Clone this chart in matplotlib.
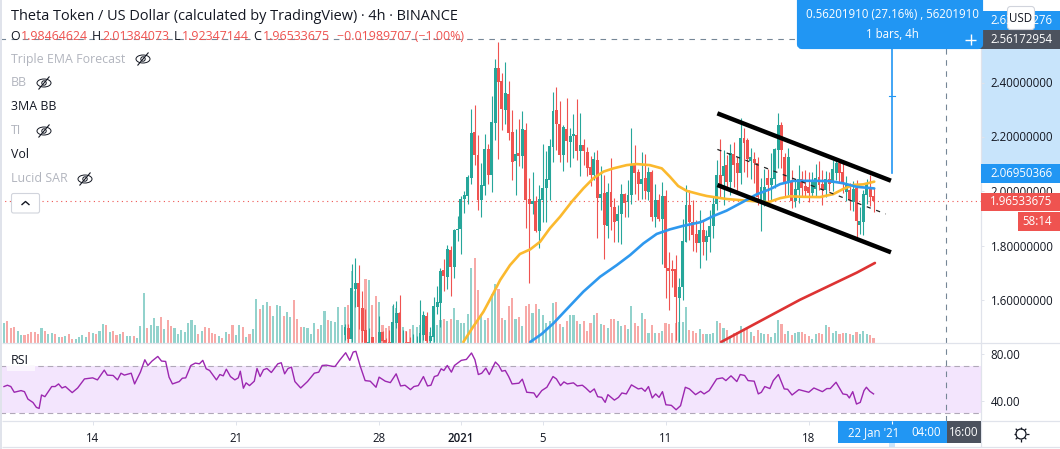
import math
import matplotlib
matplotlib.use("Agg")
import matplotlib.pyplot as plt
from matplotlib.patches import Rectangle, FancyBboxPatch, Ellipse, Circle

plt.rcParams['font.family'] = ['Open Sans', 'DejaVu Sans']

# ---------- data ----------
candle_start = 100  # earlier candles lie below the visible pane
open_ = [
 1.470,1.495,1.455,1.640,1.662,1.571,1.488,1.430,1.463,1.430,
 1.430,1.481,1.452,1.445,1.430,1.514,1.551,1.430,1.445,1.445,
 1.430,1.430,1.430,1.470,1.540,1.448,1.463,1.573,1.588,1.710,
 1.684,1.784,1.721,1.857,1.861,1.972,1.983,2.049,2.219,2.134,
 1.968,2.020,2.156,2.060,2.252,2.455,2.407,2.300,2.359,2.219,
 2.112,2.142,2.131,2.226,1.972,1.953,1.965,1.854,1.968,2.012,
 2.042,2.164,2.300,2.249,2.134,2.230,2.182,2.204,2.208,2.149,
 2.171,2.145,2.090,2.061,2.116,1.976,1.994,1.872,1.998,1.942,
 1.891,1.917,1.990,1.961,1.987,2.097,2.072,2.027,2.050,1.998,
 2.072,1.906,1.968,1.898,1.983,1.717,1.713,1.713,1.607,1.647,
 1.813,1.950,1.887,1.843,1.810,1.858,1.815,1.832,1.872,1.954,
 2.060,2.057,2.097,2.035,2.138,2.106,2.069,2.196,2.190,2.113,
 2.118,2.104,1.954,1.956,2.048,2.024,2.044,2.153,2.245,2.128,
 2.030,2.036,1.966,2.005,2.045,2.020,2.015,1.995,2.008,2.053,
 2.027,2.005,2.045,2.030,2.067,2.106,2.070,1.999,2.005,1.962,
 2.011,1.876,1.888,1.987,2.015,1.98464624]
high = [
 1.511,1.511,1.732,1.754,1.728,1.632,1.566,1.496,1.463,1.440,
 1.540,1.485,1.459,1.489,1.585,1.596,1.618,1.489,1.485,1.463,
 1.474,1.466,1.599,1.559,1.555,1.500,1.610,1.651,1.717,1.751,
 1.802,1.798,1.860,1.909,1.983,2.001,2.060,2.304,2.319,2.208,
 2.105,2.212,2.175,2.352,2.489,2.551,2.437,2.477,2.407,2.300,
 2.230,2.267,2.297,2.252,2.049,2.072,1.983,2.024,2.175,2.149,
 2.193,2.367,2.385,2.334,2.245,2.345,2.234,2.286,2.341,2.290,
 2.193,2.164,2.131,2.145,2.153,2.094,2.061,2.031,2.123,1.976,
 1.950,2.027,1.995,2.042,2.234,2.171,2.083,2.145,2.138,2.090,
 2.079,2.027,1.990,2.035,2.005,1.776,1.747,1.765,1.680,1.898,
 2.024,2.005,1.968,1.894,1.931,1.894,1.858,1.931,1.978,2.116,
 2.193,2.153,2.134,2.175,2.184,2.128,2.271,2.233,2.196,2.159,
 2.147,2.128,2.048,2.081,2.081,2.141,2.159,2.288,2.257,2.140,
 2.159,2.079,2.042,2.098,2.075,2.079,2.070,2.070,2.101,2.112,
 2.079,2.075,2.073,2.116,2.112,2.110,2.104,2.057,2.030,2.040,
 2.042,1.944,2.005,2.045,2.061,2.01384073]
low = [
 1.450,1.440,1.444,1.575,1.493,1.444,1.430,1.420,1.420,1.410,
 1.420,1.440,1.430,1.420,1.420,1.496,1.430,1.420,1.420,1.420,
 1.420,1.420,1.420,1.452,1.440,1.440,1.444,1.548,1.500,1.632,
 1.640,1.614,1.680,1.817,1.769,1.920,1.954,2.027,2.097,1.931,
 1.906,1.987,2.027,1.998,2.190,2.120,2.227,2.249,2.190,2.042,
 1.987,2.094,2.086,1.865,1.662,1.917,1.851,1.791,1.887,1.887,
 1.968,2.108,2.153,2.108,2.075,2.108,2.090,2.123,2.116,2.057,
 2.097,2.057,2.020,2.042,1.828,1.931,1.751,1.828,1.858,1.813,
 1.813,1.806,1.907,1.906,1.954,1.990,1.968,1.972,1.972,1.968,
 1.891,1.869,1.891,1.732,1.607,1.562,1.648,1.452,1.444,1.599,
 1.813,1.821,1.780,1.776,1.717,1.765,1.747,1.778,1.827,1.931,
 1.978,1.950,2.005,1.987,2.018,1.995,2.027,2.073,2.054,2.045,
 2.030,1.950,1.855,1.946,1.962,1.968,2.011,2.085,2.085,1.978,
 1.987,1.938,1.941,1.956,1.983,1.983,1.962,1.978,1.983,2.005,
 1.950,1.978,2.000,2.000,2.042,2.036,1.993,1.966,1.931,1.929,
 1.831,1.843,1.839,1.954,1.946,1.92347144]
close = [
 1.501,1.455,1.644,1.662,1.575,1.486,1.440,1.445,1.430,1.420,
 1.481,1.448,1.440,1.430,1.518,1.551,1.440,1.440,1.430,1.430,
 1.440,1.440,1.477,1.544,1.448,1.466,1.577,1.592,1.706,1.688,
 1.787,1.721,1.858,1.861,1.972,1.987,2.053,2.216,2.134,1.968,
 2.024,2.156,2.060,2.256,2.455,2.404,2.304,2.363,2.215,2.108,
 2.138,2.131,2.230,1.968,1.953,1.965,1.854,1.972,2.012,2.046,
 2.168,2.297,2.249,2.134,2.238,2.186,2.204,2.212,2.149,2.171,
 2.149,2.086,2.061,2.120,1.976,1.990,1.876,1.998,1.942,1.887,
 1.917,1.990,1.957,1.987,2.097,2.068,2.027,2.046,2.002,2.072,
 1.906,1.968,1.898,1.983,1.717,1.706,1.706,1.610,1.647,1.817,
 1.950,1.887,1.839,1.810,1.858,1.815,1.835,1.872,1.954,2.060,
 2.011,2.094,2.035,2.140,2.097,2.067,2.196,2.180,2.118,2.126,
 2.105,1.978,2.015,2.015,2.024,2.048,2.155,2.245,2.153,2.036,
 2.128,1.966,2.009,2.045,2.013,2.002,1.995,2.042,2.048,2.024,
 2.005,2.045,2.027,2.083,2.106,2.068,2.027,2.027,1.968,2.008,
 1.892,1.892,1.990,2.027,1.981,1.96533675]

volume = [
 20,22,15,16,12,8,8,9,11,11, 9,15,12,9,10,9,6,6,7,9,
 4,4,6,8,6,11,10,9,12,19, 18,11,12,8,9,11,7,7,7,5,
 17,50,15,18,25,17,26,14,23,17, 15,9,13,11,20,23,18,9,12,16,
 15,10,9,7,5,11,9,18,8,18, 16,6,9,14,44,34,38,41,37,27,
 38,37,27,31,26,43,24,16,16,15, 9,20,14,18,32,23,22,21,36,18,
 36,38,72,52,43,35,64,63,38,47, 41,18,15,17,37,35,31,16,12,14,
 18,16,18,20,14,11,20,18,23,24, 22,24,35,23,20,20,29,75,85,53,
 29,23,25,49,59,54,25,23,37,45, 24,26,17,37,39,30,39,34,28,20,
 22,40,41,19,16,22,28,28,22,19, 22,12,20,28,30,19,18,15,24,24,
 22,17,18,14,37,20,17,30,24,10, 18,10,10,12,20,19,10,20,21,21,
 36,13,12,10,14,9,9,9,10,22, 20,15,13,7,10,11,17,14,14,11,
 7,13,10,9,9,6,10,23,19,9, 12,8,10,11,11,9,7,4,9,10,
 9,18,16,10,12,9,10,10,9,8, 11,9,12,9,8,5]
early_volume_dir = ("GRRRGGRRRRRGRGGRGRGRRGGGGRGRGGRGRRGRGGRG"
                    "GGRGGGRGRRGGGGGGGRGRRRRGRGRRGGRGRGGRGGRG"
                    "GGRGGRRRGGGGRGGRGGGG")

rsi_bar = [0,1,2,3,5,6,7,8.5,9.5,10.3,11,12,14,15,16,17,18,20,21.6,23.6,26,27.4,29.4,30.3,32,33.3,34.3,35.3,37.3,38.3,
 40,41.3,42.2,43.4,45.1,46.2,47.4,48.4,49.4,51.4,52.3,53.3,54.8,56.1,57.3,58.3,59.3,60.3,62.3,63.3,64.3,65.2,66.4,67.7,68.7,69.3,
 70.2,71,72,73.4,74.2,75.1,76.1,77.1,78.4,80.3,81.3,82.3,83.3,84.3,85.3,87,89,91,92.3,93.3,94.5,96.5,97.1,98.4,100.2,101.4,102.4,103.2,
 104.4,105.9,107.4,109.1,110,111.8,113.3,115,116.3,117.6,119.2,120.2,121.5,123,124.2,125.2,126.2,127.2,128.2,129,130,131.2,132.1,134.1,135.6,137.1,
 138.1,139.1,140.1,141.3,142.3,144.1,145.1,146,147,148,149,151,152,153.3,155.4,156.2,157.7,159.2,161,162,163.2,164.2,165.2,167,168.1,169.6,170.6,171.9,173.1,174.1,
 175.3,176.3,177.1,179,180.2,181.2,182.5,184,186,187,188,189,190.1,191.1,192.1,193.1,194.1,195.7,197.1,198.4,199.8,201,202.8,204.3,205.3,206.8,209,210.7,211.7,213.2,
 214.9,215.9,217.2,218.2,220,221.2,222.1,223.1,224.6,225.6,227.1,228.8,229.8,231.1,233.1,236,237.5,240,241.3,242.3,244,246,247.2,247.9,248.9,250,251.1,252.2,252.9,253.9,255]
rsi_val = [52.4,53.5,52.4,47.6,49,48.1,41.9,39,34.9,34,45.3,43.9,52.4,52.4,54.6,51.2,52.4,47.3,51.2,58.8,59.7,58,66.2,62,61.7,58,63.6,62,63.6,54.6,
 64.5,74.9,70.1,73.8,77.7,73.8,73.5,60.3,54.6,56.6,59.4,59.7,70.1,72.1,71.5,74.4,67.3,65.9,58,62.5,61.4,67,60.8,58,59.7,65.3,
 51,55.5,53.2,56.9,67.6,60.8,66.5,67.6,64.2,71.5,72.4,63.1,67.6,68.7,56.6,51.2,56.6,63.6,64.5,70.1,70.4,69.3,69.3,74.4,80.8,74.4,81.4,82,
 70.1,57.4,56.9,51.8,60.3,56.9,55.7,63.1,52.9,53.5,49.8,52.4,53.2,60.8,52.9,53.5,60.8,61.7,67.3,65.9,70.1,64.5,70.1,74.4,75.2,80.6,
 74.9,62.5,63.6,67.9,62.5,73,70.1,65.3,65.9,60.8,54.6,55.2,58.6,47.6,47,43.3,49,51.8,60.8,58.8,53.2,56.3,54.6,55.5,52.9,53.5,51.2,47.6,50.4,43.9,
 43.3,39.1,45.6,41,43.3,47,46.2,53.8,50.4,51,48.4,52.4,42.8,46.2,43.3,48.1,37.1,36.6,32.9,36.3,51.8,50.4,45.6,48.4,46.2,49,58.8,59.7,57.4,61.4,
 56.6,62.5,61.7,57.4,56.9,46.2,47.6,52.4,50.7,57.4,62.5,50.4,50.1,45.3,49.8,47.6,51.2,48.1,50.7,50.7,56,46.2,45.6,42.8,48.1,37.7,39.1,49,51.8,48.4,46.2]

ma_yellow_bar = [134.7,137.6,140.6,143.5,145.5,148.4,151.3,154.3,157.2,160.1,163.1,166.5,169.9,172.8,175.8,178.7,182.6,185.5,189.4,192.9,195.3,197.7,200.2,204.1,206.1,211.9,217.8,224.1,227.6,230.5,234.4,239.3,243.2,246.1,249.1,252,255.2]
ma_yellow_val = [1.4443,1.5008,1.556,1.624,1.673,1.728,1.769,1.786,1.814,1.864,1.907,1.962,2.011,2.048,2.073,2.085,2.097,2.101,2.097,2.085,2.054,2.020,2.002,1.989,1.983,1.972,1.966,1.960,1.975,1.982,1.980,1.979,1.990,2.009,2.024,2.026,2.036]
ma_blue_bar = [154.3,157.7,161.1,165,169.9,174.8,179.7,183.6,187.5,191.4,195.3,199.2,204.1,205.1,208,211.9,216.8,220.7,224.6,227.6,231.5,237.3,242.2,246.1,250,255.2]
ma_blue_val = [1.4443,1.474,1.513,1.565,1.630,1.685,1.728,1.765,1.808,1.843,1.860,1.873,1.886,1.891,1.909,1.929,1.962,1.989,2.008,2.027,2.039,2.039,2.038,2.030,2.017,2.011]
ma_red_bar = [210.3,233.4,250.1,255.4]
ma_red_val = [1.4443,1.6,1.7004,1.736]

channel_upper_bar, channel_upper_val = [209.2, 260.1], [2.288, 2.0395]
channel_lower_bar, channel_lower_val = [209.2, 260.1], [2.0236, 1.7753]
channel_mid_bar, channel_mid_val = [209.2, 258.6], [2.155, 1.9166]

measure_bar = 260.5
measure_from, measure_to = 2.06950366, 2.63152276
crosshair_bar, crosshair_price = 276.2, 2.56172954

price_ticks = [1.6, 1.8, 2.0, 2.2, 2.4]
rsi_ticks = [40, 80]
time_tick_bars = [26, 68, 110, 134, 158, 194, 236]
time_tick_labels = ['14', '21', '28', '2021', '5', '11', '18']

# ---------- colours ----------
GREEN, RED = '#26a69a', '#ef5350'
GREEN_V, RED_V = '#92d2cc', '#f7a9a7'
BLUE, DARK, GRID = '#2196f3', '#4c525e', '#e0e3eb'
TXT, MUTED = '#131722', '#b2b5be'
F = 100.0
W, H = 1060, 449
PANE_R, PANE_B, RSI_T, RSI_B = 981, 342.5, 343, 420.5
BAR_X0, BAR_DX = 4.0, 3.41
PRICE_TOP, PX_PER_UNIT = 2.7063, 271.0

fig = plt.figure(figsize=(W/F, H/F), dpi=F, facecolor='white')
def axpx(l, t, r, b, **k):
    return fig.add_axes([l/W, 1-b/H, (r-l)/W, (b-t)/H], **k)

xlim = (-BAR_X0/BAR_DX, (PANE_R-BAR_X0)/BAR_DX)

# volume (behind)
axv = axpx(0, 0, PANE_R, PANE_B)
axv.set_xlim(xlim); axv.set_ylim(0, PANE_B); axv.axis('off')
bars = list(range(len(volume)))
cols = []
for i in bars:
    if i < candle_start:
        cols.append(GREEN_V if early_volume_dir[i] == 'G' else RED_V)
    else:
        k = i - candle_start
        cols.append(GREEN_V if close[k] >= open_[k] else RED_V)
for p in axv.bar(bars, volume, width=0.62, color=cols, linewidth=0):
    p.set_snap(True)

# price
ax = axpx(0, 0, PANE_R, PANE_B)
ax.patch.set_alpha(0)
ax.set_xlim(xlim)
ax.set_ylim(PRICE_TOP - PANE_B/PX_PER_UNIT, PRICE_TOP)
for s in ax.spines.values():
    s.set_visible(False)
ax.set_xticks([])
ax.yaxis.tick_right()
ax.set_yticks(price_ticks)
ax.set_yticklabels([f'{v:.8f}' for v in price_ticks], fontsize=8.3, color=TXT)
ax.tick_params(axis='y', length=2.5, width=0.7, color=GRID, pad=4.5)

cx = [candle_start + k for k in range(len(close))]
cc = [GREEN if c >= o else RED for o, c in zip(open_, close)]
wicks = ax.vlines(cx, low, high, colors=cc, linewidth=0.8, zorder=3)
wicks.set_snap(True)
for p in ax.bar(cx, [max(abs(c-o), 0.005) for o, c in zip(open_, close)],
                bottom=[min(o, c) for o, c in zip(open_, close)],
                width=0.86, color=cc, linewidth=0, zorder=3.1):
    p.set_snap(True)

ax.plot(ma_yellow_bar, ma_yellow_val, color='#fbb92e', lw=1.9, zorder=4, solid_capstyle='round')
ax.plot(ma_blue_bar, ma_blue_val, color='#2e98ee', lw=1.9, zorder=4.1, solid_capstyle='round')
ax.plot(ma_red_bar, ma_red_val, color='#dd3333', lw=1.9, zorder=4, solid_capstyle='round')
ax.plot(channel_upper_bar, channel_upper_val, color='black', lw=3.2, zorder=5, solid_capstyle='butt')
ax.plot(channel_lower_bar, channel_lower_val, color='black', lw=3.2, zorder=5, solid_capstyle='butt')
ax.plot(channel_mid_bar, channel_mid_val, color='#222222', lw=0.9, zorder=5, linestyle=(0, (3.4, 4.6)))

ax.axhline(close[-1], color=RED, lw=0.8, linestyle=(0, (1, 3.2)), zorder=2)
ax.plot([xlim[0], (961-BAR_X0)/BAR_DX], [crosshair_price]*2, color='#758696', lw=0.8,
        linestyle=(0, (5, 5)), zorder=2)
ax.axvline(crosshair_bar, color='#758696', lw=0.8, linestyle=(0, (5, 5)), zorder=2)
ax.plot([measure_bar]*2, [measure_from, measure_to], color=BLUE, lw=1.2, zorder=6)
ax.plot([measure_bar-0.9, measure_bar+0.9], [(measure_from+measure_to)/2]*2, color=BLUE, lw=0.8, zorder=6)

# RSI
axr = axpx(0, RSI_T, PANE_R, RSI_B)
axr.set_xlim(xlim)
axr.set_ylim(80-(RSI_B-353.7)/1.19, 80-(RSI_T-353.7)/1.19)
for s in axr.spines.values():
    s.set_visible(False)
axr.axhspan(30, 70, color='#f3e5fd', lw=0, zorder=1)
for lv in (30, 70):
    axr.axhline(lv, color='#b0a8b8', lw=0.8, linestyle=(0, (5, 3.5)), zorder=2)
axr.plot(rsi_bar, rsi_val, color='#9c27b0', lw=1.0, zorder=3)
axr.axvline(crosshair_bar, color='#758696', lw=0.8, linestyle=(0, (5, 5)), zorder=2.5)
axr.yaxis.tick_right()
axr.set_yticks(rsi_ticks)
axr.set_yticklabels([f'{v:.2f}' for v in rsi_ticks], fontsize=8.3, color=TXT)
axr.tick_params(axis='y', length=2.5, width=0.7, color=GRID, pad=4.5)
axr.set_xticks(time_tick_bars)
axr.set_xticklabels(time_tick_labels, fontsize=8.3, color=TXT)
axr.tick_params(axis='x', length=3, width=0.7, color=GRID, pad=5)
for lab in axr.get_xticklabels():
    if lab.get_text() == '2021':
        lab.set_fontweight('semibold')

# interface layer (pixel coordinates)
ui = fig.add_axes([0, 0, 1, 1], zorder=10)
ui.set_xlim(0, W); ui.set_ylim(H, 0); ui.axis('off'); ui.patch.set_alpha(0)
def rect(x0, y0, x1, y1, c, z=1):
    ui.add_patch(Rectangle((x0, y0), x1-x0, y1-y0, fc=c, ec='none', zorder=z))
def line(xs, ys, c=GRID, lw=0.9, z=2):
    ui.plot(xs, ys, color=c, lw=lw, zorder=z, solid_capstyle='butt')
def label(x, y, s, c='white', fs=8.3, ha='left', w='normal', z=8):
    ui.text(x, y, s, color=c, fontsize=fs, ha=ha, va='center', fontweight=w, zorder=z)

rect(0, 0, 2, H, GRID)
line([2, W], [342.8, 342.8]); line([2, W], [420.6, 420.6]); line([PANE_R, PANE_R], [0, 447])
line([2, W], [447.3, 447.3])

# measure highlight on the axes
def py(p):
    return (PRICE_TOP - p) * PX_PER_UNIT
rect(PANE_R+0.5, py(measure_to), W, py(measure_from), '#c8e4fb', 0.5)
rect(889, 443, 895, 447, '#c8e4fb', 1)
# redraw the price labels that sit on the highlight
for v in (2.2, 2.4):
    label(990, py(v), f'{v:.8f}', TXT)
    line([PANE_R, PANE_R+3], [py(v)]*2, GRID)

# tooltip
ui.add_patch(FancyBboxPatch((799, -6), 182, 53, boxstyle='round,pad=0,rounding_size=3',
                            fc=BLUE, ec=BLUE, lw=3, zorder=5))
label(892, 15, '0.56201910 (27.16%) , 56201910', ha='center', fs=8.3, w='medium')
label(892, 35, '1 bars, 4h', ha='center', fs=8.3, w='medium')

# axis price labels
rect(PANE_R, py(measure_to)-9.5, W, py(measure_to)+9.5, BLUE, 3)
label(990, py(measure_to), f'{measure_to:.8f}', w='medium')
rect(961, 30, W, 49, DARK, 4)
label(990, py(crosshair_price), f'{crosshair_price:.8f}', w='medium')
line([970.5, 970.5], [34, 45], 'white', 1.0, 6); line([965, 976], [39.5, 39.5], 'white', 1.0, 6)
rect(PANE_R, 164, W, 183, BLUE, 3)
label(990, 173.5, f'{measure_from:.8f}', w='medium')
rect(PANE_R, 192.5, W, 211, RED, 3)
label(990, 201.7, f'{close[-1]:.8f}', w='medium')
rect(1018, 212, W, 231, RED, 3)
label(1022, 221.5, '58:14', w='medium')

ui.add_patch(FancyBboxPatch((1007.5, 6.5), 27, 23, boxstyle='round,pad=0,rounding_size=3',
                            fc='white', ec='#d1d4dc', lw=0.8, zorder=7))
label(1021, 18, 'USD', TXT, ha='center', fs=8.3)

# time axis boxes
rect(838, 421, 947, 443, BLUE, 3)
rect(947, 421, PANE_R, 443, DARK, 3)
label(874, 433, "22 Jan '21", ha='center', w='medium')
label(926, 433, '04:00', ha='center', w='medium')
label(964, 433, '16:00', ha='center', w='medium')
line([892, 892], [421, 424], 'white', 0.8, 6)

# gear
ui.add_patch(Circle((1021, 434), 5, fc='white', ec=TXT, lw=0.9, zorder=6))
for k in range(8):
    a = k * math.pi / 4
    line([1021+5*math.cos(a), 1021+7.5*math.cos(a)],
         [434+5*math.sin(a), 434+7.5*math.sin(a)], TXT, 0.9, 6)

# legend
label(11, 16.5, 'Theta Token / US Dollar (calculated by TradingView) · 4h · BINANCE', TXT, fs=10.45)
ohlc = [(10, 'O', TXT), (21, '1.98464624', RED), (92, 'H', TXT), (102, '2.01384073', RED),
        (174, 'L', TXT), (182, '1.92347144', RED), (253, 'C', TXT), (263, '1.96533675', RED),
        (337, '−0.01989707 (−1.00%)', RED)]
for x, s, c in ohlc:
    label(x, 36.5, s, c, fs=8.9)
rows = [(59, 'Triple EMA Forecast', MUTED, 143), (83, 'BB', MUTED, 44), (107, '3MA BB', TXT, None),
        (131, 'TI', MUTED, 44), (155, 'Vol', TXT, None), (179, 'Lucid SAR', MUTED, 85)]
for y, s, c, eye in rows:
    label(11, y, s, c, fs=8.9)
    if eye:
        ui.add_patch(Ellipse((eye, y), 14, 8, fc='none', ec=TXT, lw=0.7, zorder=6))
        ui.add_patch(Circle((eye, y), 2.2, fc='none', ec=TXT, lw=0.7, zorder=6))
        line([eye-5.5, eye+5.5], [y+6.5, y-6.5], TXT, 0.8, 6)
ui.add_patch(FancyBboxPatch((11.5, 193.5), 28, 19.5, boxstyle='round,pad=0,rounding_size=2',
                            fc='white', ec='#d1d4dc', lw=0.8, zorder=6))
line([21.5, 25.5, 29.5], [205, 201.5, 205], TXT, 1.0, 7)
label(11, 360, 'RSI', TXT, fs=8.9)
rect(7, 366, 35, 371, '#fbf6fe', 2)

fig.savefig('out.png', dpi=F, facecolor='white')
